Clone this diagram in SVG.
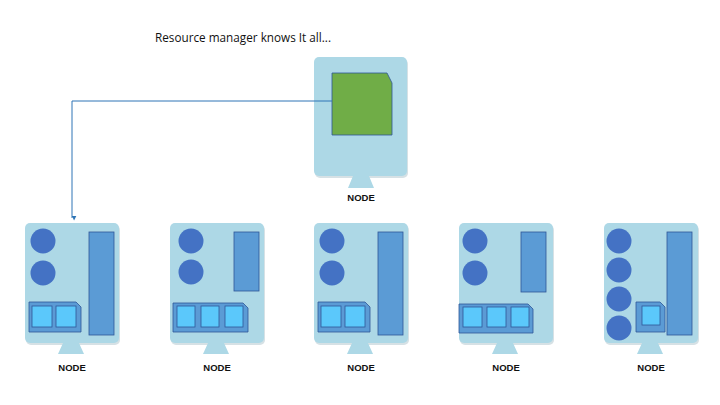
<svg xmlns="http://www.w3.org/2000/svg" width="720" height="405" viewBox="0 0 720 405">
<defs>
<style>
.body{fill:#ADD8E6;}
.shadow{fill:#8aa9b4;opacity:0.35;}
.stand{fill:#ADD8E6;}
.cpu{fill:#4472C4;}
.mem{fill:#5B9BD5;stroke:#2F5597;stroke-width:0.8;}
.box{fill:#5B9BD5;stroke:#2F5597;stroke-width:0.8;}
.slot{fill:#5BC8FB;stroke:#2F5597;stroke-width:0.8;}
.lbl{font-family:"Liberation Sans",Arial,sans-serif;font-weight:bold;font-size:9.5px;fill:#111;text-anchor:middle;}
.conn{fill:none;stroke:#2E75B6;stroke-width:1;}
</style>
<marker id="arr" viewBox="0 0 6 6" refX="3" refY="5.5" markerWidth="5" markerHeight="5" orient="auto" markerUnits="userSpaceOnUse">
<path d="M0,0 L6,0 L3,6 Z" fill="#2E75B6" transform="rotate(-90 3 3)"/>
</marker>
</defs>
<rect width="720" height="405" fill="#fff"/>
<text x="155" y="42" font-family="'Open Sans','Liberation Sans',sans-serif" font-size="12" fill="#111" textLength="176" lengthAdjust="spacingAndGlyphs">Resource manager knows It all...</text>

<g id="node-rm">
<rect class="shadow" x="315" y="59" width="93" height="119" rx="5"/>
<rect class="body" x="314" y="57" width="93" height="119" rx="5"/>
<path class="stand" d="M353,176 L369,176 L374,188 L348,188 Z"/>
<path d="M332,73 L387,73 L392,83 L392,135 L332,135 Z" fill="#70AD47" stroke="#2F5597" stroke-width="0.8"/>
<text class="lbl" x="361" y="201">NODE</text>
</g>

<g id="node-1">
<rect class="shadow" x="26" y="225" width="94" height="120" rx="5"/>
<rect class="body" x="25" y="223" width="94" height="120" rx="5"/>
<path class="stand" d="M63,343 L79,343 L84,354 L58,354 Z"/>
<circle class="cpu" cx="43" cy="241" r="12.5"/>
<circle class="cpu" cx="43" cy="273" r="12.5"/>
<rect class="mem" x="89" y="232" width="25" height="103"/>
<path class="box" d="M29,302 L76,302 L81,307 L81,332 L29,332 Z"/>
<rect class="slot" x="32" y="306" width="20" height="21"/>
<rect class="slot" x="56" y="306" width="20" height="21"/>
<text class="lbl" x="72" y="371">NODE</text>
</g>

<g id="node-2">
<rect class="shadow" x="171" y="225" width="94" height="120" rx="5"/>
<rect class="body" x="170" y="223" width="94" height="120" rx="5"/>
<path class="stand" d="M208,343 L224,343 L229,354 L203,354 Z"/>
<circle class="cpu" cx="191" cy="241" r="12.5"/>
<circle class="cpu" cx="191" cy="272" r="12.5"/>
<rect class="mem" x="234" y="232" width="25" height="59"/>
<path class="box" d="M173,303 L243,303 L248,308 L248,332 L173,332 Z"/>
<rect class="slot" x="177" y="306" width="18" height="21"/>
<rect class="slot" x="201" y="306" width="18" height="21"/>
<rect class="slot" x="225" y="306" width="18" height="21"/>
<text class="lbl" x="217" y="371">NODE</text>
</g>

<g id="node-3">
<rect class="shadow" x="315" y="225" width="94" height="120" rx="5"/>
<rect class="body" x="314" y="223" width="94" height="120" rx="5"/>
<path class="stand" d="M352,343 L368,343 L373,354 L347,354 Z"/>
<circle class="cpu" cx="332" cy="241" r="12.5"/>
<circle class="cpu" cx="332" cy="273" r="12.5"/>
<rect class="mem" x="378" y="232" width="25" height="103"/>
<path class="box" d="M318,302 L365,302 L370,307 L370,332 L318,332 Z"/>
<rect class="slot" x="321" y="306" width="20" height="21"/>
<rect class="slot" x="345" y="306" width="20" height="21"/>
<text class="lbl" x="361" y="371">NODE</text>
</g>

<g id="node-4">
<rect class="shadow" x="460" y="225" width="94" height="120" rx="5"/>
<rect class="body" x="459" y="223" width="94" height="120" rx="5"/>
<path class="stand" d="M497,343 L513,343 L518,354 L492,354 Z"/>
<circle class="cpu" cx="475" cy="241" r="12.5"/>
<circle class="cpu" cx="475" cy="273" r="12.5"/>
<rect class="mem" x="521" y="232" width="25" height="60"/>
<path class="box" d="M459,304 L528,304 L533,309 L533,333 L459,333 Z"/>
<rect class="slot" x="463" y="307" width="19" height="20"/>
<rect class="slot" x="487" y="307" width="19" height="20"/>
<rect class="slot" x="511" y="307" width="18" height="20"/>
<text class="lbl" x="506" y="371">NODE</text>
</g>

<g id="node-5">
<rect class="shadow" x="605" y="225" width="94" height="120" rx="5"/>
<rect class="body" x="604" y="223" width="94" height="120" rx="5"/>
<path class="stand" d="M642,343 L658,343 L663,354 L637,354 Z"/>
<circle class="cpu" cx="619" cy="241" r="12.5"/>
<circle class="cpu" cx="619" cy="270" r="12.5"/>
<circle class="cpu" cx="619" cy="299" r="12.5"/>
<circle class="cpu" cx="619" cy="328" r="12.5"/>
<rect class="mem" x="667" y="232" width="25" height="103"/>
<path class="box" d="M636,302 L660,302 L665,307 L665,332 L636,332 Z"/>
<rect class="slot" x="642" y="306" width="18" height="19"/>
<text class="lbl" x="651" y="371">NODE</text>
</g>

<g id="connectors">
<path class="conn" d="M332,101 L72,101 L72,218" marker-end="url(#arr)"/>
</g>
</svg>
